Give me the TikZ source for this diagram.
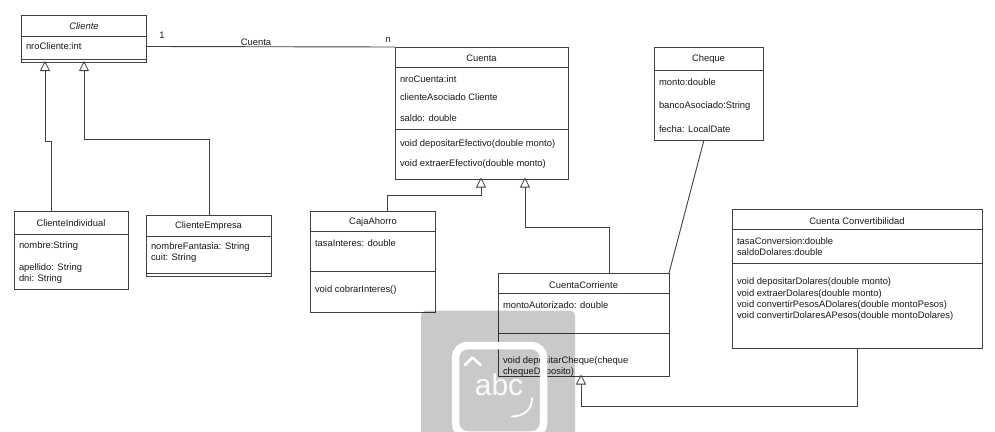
\documentclass[tikz,border=0pt]{standalone}
\usepackage{fontspec}
\setmainfont{Liberation Sans}
\usetikzlibrary{arrows.meta}
\tikzset{
  x=1pt,y=-1pt,
  every node/.style={font=\fontsize{9.4}{11.3}\selectfont,text=black!90,inner sep=0pt,outer sep=0pt},
  classbox/.style={draw=black!75,line width=.9pt,anchor=north west,inner sep=0pt},
  sep/.style={draw=black!75,line width=.9pt},
  title/.style={anchor=center},
  item/.style={anchor=west,align=left},
  wire/.style={draw=black!75,line width=.9pt},
  gen/.style={wire,-{Triangle[open,fill=white,length=10pt,width=10pt,line width=.8pt]}},
  wmline/.style={white,line cap=round,line join=round},
}
\begin{document}
\begin{tikzpicture}
\useasboundingbox (0,0) rectangle (995,431);
% Cliente
\node[classbox,minimum width=125pt,minimum height=47pt] (cl) at (21,15) {};
\node[title] (clT) at (84,26) {\itshape Cliente};
\node[item] (cl1) at (26,46) {nroCliente:int};
\draw[sep] (21,36) -- (146,36) (21,59.5) -- (146,59.5);
% ClienteIndividual
\node[classbox,minimum width=114pt,minimum height=78pt] (ci) at (14,211) {};
\node[title] (ciT) at (71,223) {ClienteIndividual};
\node[item] (ci1) at (19,246) {nombre:String};
\node[item] (ci2) at (19,268) {apellido: String};
\node[item] (ci3) at (19,279) {dni: String};
\draw[sep] (14,234) -- (128,234);
% ClienteEmpresa
\node[classbox,minimum width=125pt,minimum height=61pt] (ce) at (146,215) {};
\node[title] (ceT) at (208.5,226) {ClienteEmpresa};
\node[item] (ce1) at (151,247) {nombreFantasia: String};
\node[item] (ce2) at (151,258) {cuit: String};
\draw[sep] (146,236) -- (271,236) (146,273) -- (271,273);
% Cuenta
\node[classbox,minimum width=173pt,minimum height=132pt] (cu) at (395,47) {};
\node[title] (cuT) at (481.5,58) {Cuenta};
\node[item] (cu1) at (400,79) {nroCuenta:int};
\node[item] (cu2) at (400,97) {clienteAsociado Cliente};
\node[item] (cu3) at (400,118) {saldo: double};
\node[item] (cu4) at (400,144) {void depositarEfectivo(double monto)};
\node[item] (cu5) at (400,164) {void extraerEfectivo(double monto)};
\draw[sep] (395,67) -- (568,67) (395,129) -- (568,129);
% CajaAhorro
\node[classbox,minimum width=125pt,minimum height=101pt] (ca) at (310,211) {};
\node[title] (caT) at (373,222) {CajaAhorro};
\node[item] (ca1) at (315,243) {tasaInteres: double};
\node[item] (ca2) at (315,290) {void cobrarInteres()};
\draw[sep] (310,231) -- (435,231) (310,271) -- (435,271);
% CuentaCorriente
\node[classbox,minimum width=171pt,minimum height=103pt] (cc) at (498,273) {};
\node[title] (ccT) at (583.5,285) {CuentaCorriente};
\node[item] (cc1) at (503,305) {montoAutorizado: double};
\node[item] (cc2) at (503,366.5) {void depositarCheque(cheque\\chequeDeposito)};
\draw[sep] (498,293) -- (669,293) (498,333) -- (669,333);
% Cheque
\node[classbox,minimum width=109pt,minimum height=93pt] (ch) at (654,47) {};
\node[title] (chT) at (708.5,59) {Cheque};
\node[item] (ch1) at (659,82) {monto:double};
\node[item] (ch2) at (659,106) {bancoAsociado:String};
\node[item] (ch3) at (659,129) {fecha: LocalDate};
\draw[sep] (654,70) -- (763,70);
% Cuenta Convertibilidad
\node[classbox,minimum width=250pt,minimum height=139pt] (co) at (732,209) {};
\node[title] (coT) at (857,221) {Cuenta Convertibilidad};
\node[item] (co1) at (737,246.5) {tasaConversion:double\\saldoDolares:double};
\node[item] (co2) at (737,299.5) {void depositarDolares(double monto)\\void extraerDolares(double monto)\\void convertirPesosADolares(double montoPesos)\\void convertirDolaresAPesos(double montoDolares)};
\draw[sep] (732,229) -- (982,229) (732,263) -- (982,263);
% labels on the association
\node (l1) at (162,35) {1};
\node (l2) at (256,42.5) {Cuenta};
\node (l3) at (388,39.5) {n};
% connectors
\draw[wire] ([yshift=-8pt]cl.east) -- (cu.north west);
\draw[gen] ([xshift=-19.5pt]ci.north) |- (45,141) -- ([xshift=-38.5pt,yshift=1pt]cl.south);
\draw[gen] ([xshift=.5pt]ce.north) |- (84,139) -- ([xshift=.5pt,yshift=1pt]cl.south);
\draw[gen] ([xshift=14.5pt]ca.north) |- (481,195) -- ([xshift=-.5pt,yshift=1.5pt]cu.south);
\draw[gen] ([xshift=26pt]cc.north) |- (525,227) -- ([xshift=43.5pt,yshift=1.5pt]cu.south);
\draw[wire] ([xshift=-4.5pt]ch.south) -- (cc.north east);
\draw[gen] (co.south) |- (581,406) -- ([xshift=-2.5pt,yshift=1.5pt]cc.south);
% watermark
\fill[black,opacity=.21,rounded corners=6pt] (421,310.5) -- (575,310.5) -- (575,440) -- (421,440) -- cycle;
\draw[white,line width=7.5pt,rounded corners=12pt] (455.5,345.5) -- (543.5,345.5) -- (543.5,435) -- (455.5,435) -- cycle;
\node[white,font=\fontsize{30}{30}\selectfont,anchor=base,opacity=.9] (wm) at (499,395) {abc};
\draw[wmline,line width=2.6pt] (465,365) -- (472.5,357.5) -- (480.5,365);
\draw[wmline,line width=1.8pt] (532,398) .. controls (532,410) and (524,416) .. (512,416.5);
\end{tikzpicture}
\end{document}
